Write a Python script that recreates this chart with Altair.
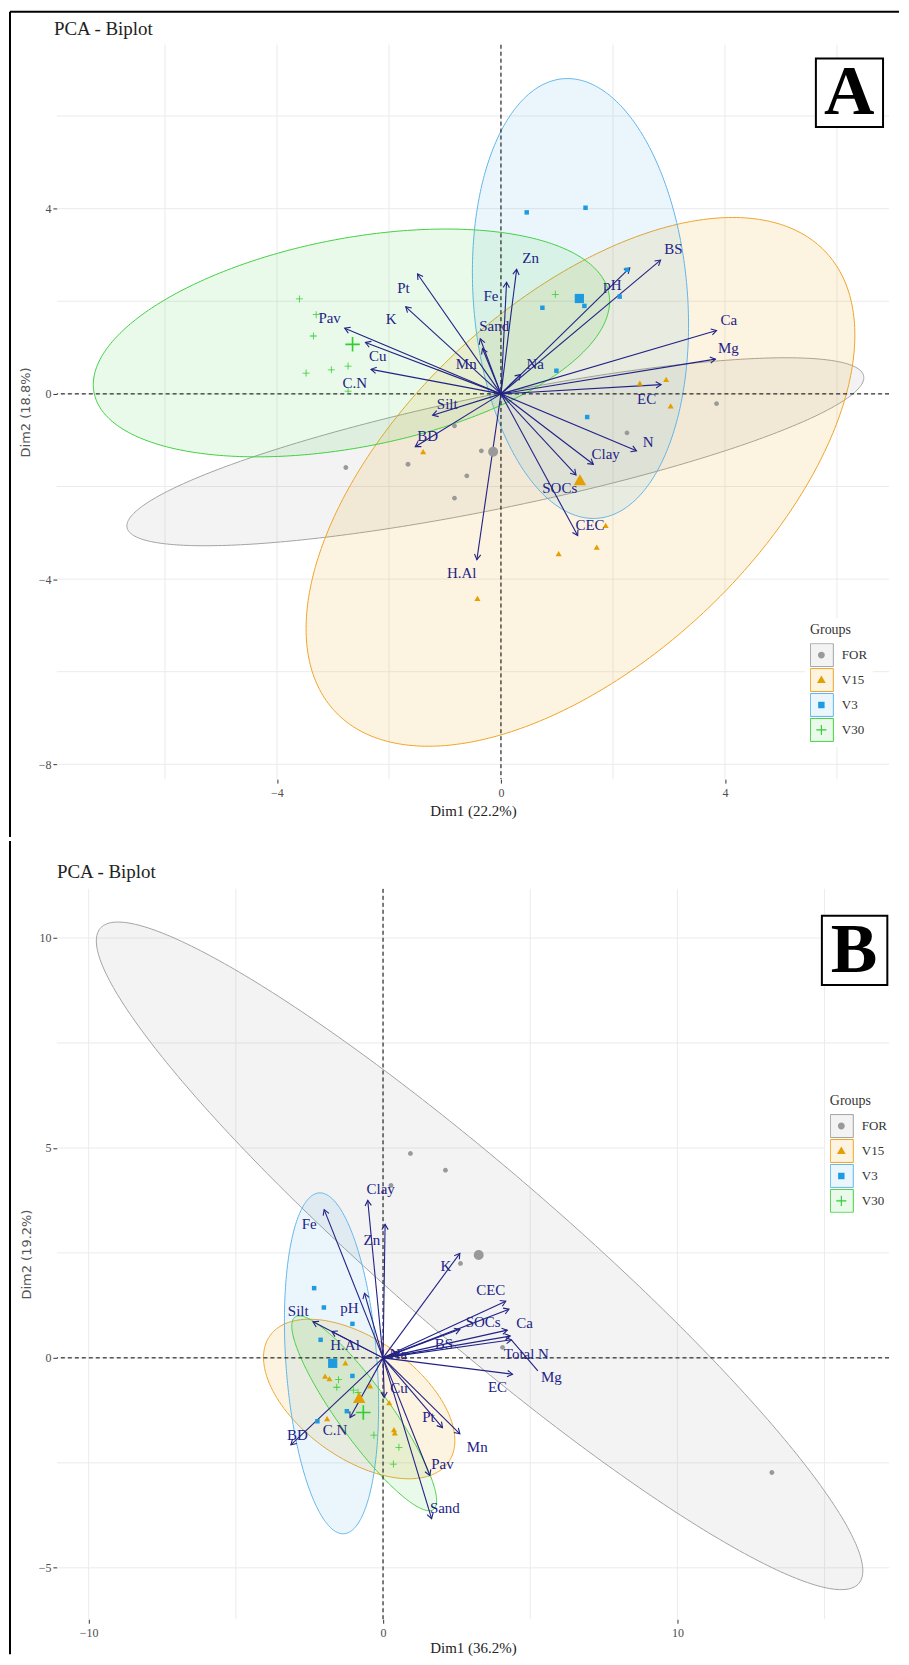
import math
import altair as alt
import numpy as np
import pandas as pd

SERIF = "Liberation Serif"
SANS = "DejaVu Sans"
NAVY = "#222286"

GROUPS = ["FOR", "V15", "V3", "V30"]
POINT_COLORS = ["#999999", "#E69F00", "#1E9BE0", "#33CC33"]
OUTLINE_COLORS = ["#A3A3A3", "#EFA52A", "#62B5EA", "#42CF42"]
ELLIPSE_FILLS = ["rgba(153,153,153,0.12)", "rgba(230,159,0,0.12)",
                 "rgba(30,155,224,0.09)", "rgba(51,204,51,0.10)"]
SHAPES = [
    "M0.3,0A0.3,0.3,0,1,1,-0.3,0A0.3,0.3,0,1,1,0.3,0Z",
    "M0,-0.4L0.38,0.26L-0.38,0.26Z",
    "M-0.28,-0.28H0.28V0.28H-0.28Z",
    "M-0.44,-0.05H-0.05V-0.44H0.05V-0.05H0.44V0.05H0.05V0.44H-0.05V0.05H-0.44Z",
]
CHEVRON = "M-0.6,1L0,0L0.6,1"
SMALL, BIG = 256, 1089

# ---------------- Panel A ----------------
A_FOR_X = [-0.83, -0.35, -1.66, -2.77, -0.61, -0.83, 2.25, 3.85]
A_FOR_Y = [-0.69, -1.23, -1.52, -1.59, -1.77, -2.25, -0.84, -0.21]
A_V15_X = [2.48, 2.95, 3.03, -1.39, 1.87, 1.71, 1.03, -0.42]
A_V15_Y = [0.22, 0.30, -0.27, -1.26, -2.85, -3.32, -3.46, -4.43]
A_V3_X = [0.46, 1.51, 1.49, 0.74, 2.25, 2.12, 0.99, 1.54]
A_V3_Y = [3.92, 4.02, 1.90, 1.86, 2.68, 2.10, 0.50, -0.50]
A_V30_X = [-3.60, -3.30, -3.35, -3.48, -3.03, -2.73, -2.73, 0.97]
A_V30_Y = [2.05, 1.71, 1.25, 0.45, 0.52, 0.60, 0.06, 2.15]
A_MEAN_X = [-0.14, 1.41, 1.40, -2.65]
A_MEAN_Y = [-1.25, -1.88, 2.06, 1.07]

A_ELL_CX = [-0.10, 1.42, 1.42, -2.67]
A_ELL_CY = [-1.25, -1.90, 2.06, 1.10]
A_ELL_HX = [6.58, 4.90, 1.93, 4.61]
A_ELL_HY = [2.03, 5.71, 4.75, 2.46]
A_ELL_RY = [1.60, 3.17, -0.57, 0.90]

A_VARS = ["Zn", "Fe", "Pt", "K", "Pav", "Cu", "C.N", "Sand", "Mn", "Na", "pH",
          "BS", "EC", "Silt", "BD", "N", "Clay", "SOCs", "CEC", "H.Al", "Ca", "Mg"]
A_TIP_X = [0.28, 0.10, -1.49, -1.70, -2.79, -2.42, -2.32, -0.37, -0.33, 0.35, 2.30,
           2.85, 2.86, -1.22, -1.53, 2.42, 1.65, 1.34, 1.37, -0.43, 3.85, 3.83]
A_TIP_Y = [2.69, 2.41, 2.59, 1.88, 1.42, 1.11, 0.53, 1.19, 0.98, 0.42, 2.72,
           2.89, 0.20, -0.46, -1.14, -1.23, -1.52, -1.75, -3.06, -3.58, 1.37, 0.75]
A_LAB_X = [0.53, -0.18, -1.74, -1.96, -3.06, -2.20, -2.61, -0.12, -0.62, 0.61, 1.99,
           3.08, 2.60, -0.96, -1.31, 2.63, 1.87, 1.05, 1.59, -0.70, 4.07, 4.06]
A_LAB_Y = [2.93, 2.11, 2.29, 1.62, 1.64, 0.82, 0.24, 1.46, 0.65, 0.65, 2.36,
           3.13, -0.11, -0.22, -0.91, -1.03, -1.29, -2.03, -2.83, -3.87, 1.59, 0.98]

# ---------------- Panel B ----------------
B_FOR_X = [0.93, 2.12, 0.27, 2.63, 4.06, 13.21]
B_FOR_Y = [4.87, 4.47, 4.11, 2.25, 0.25, -2.73]
B_V15_X = [-1.28, -1.97, -1.82, -0.44, 0.21, -1.90, 0.37, 0.40]
B_V15_Y = [-0.13, -0.45, -0.51, -0.68, -1.08, -1.46, -1.72, -1.80]
B_V3_X = [-2.34, -2.01, -1.04, -2.12, -1.04, -1.23, -2.23]
B_V3_Y = [1.66, 1.20, 0.81, 0.43, -0.43, -1.27, -1.51]
B_V30_X = [-1.51, -1.57, -1.01, -0.85, -0.31, 0.54, 0.35]
B_V30_Y = [-0.52, -0.70, -0.77, -0.82, -1.84, -2.13, -2.53]
B_MEAN_X = [3.25, -0.81, -1.71, -0.67]
B_MEAN_Y = [2.45, -0.97, -0.13, -1.30]

B_ELL_CX = [3.28, -0.81, -1.75, -0.64]
B_ELL_CY = [2.43, -0.98, -0.13, -1.32]
B_ELL_HX = [13.02, 3.25, 1.60, 2.46]
B_ELL_HY = [7.95, 1.90, 4.06, 2.32]
B_ELL_RY = [-7.50, -0.99, -1.00, -2.08]

B_VARS = ["Clay", "Fe", "Zn", "K", "pH", "Silt", "H.Al", "CEC", "Ca", "SOCs", "BS",
          "Total N", "Mg", "EC", "Na", "Cu", "Pt", "Mn", "Pav", "Sand", "BD", "C.N"]
B_TIP_X = [-0.52, -2.00, 0.07, 2.61, -0.63, -2.38, -1.74, 4.17, 4.28, 2.61, 4.22,
           4.32, 4.36, 4.40, 0.55, 0.04, 2.02, 2.61, 1.59, 1.65, -3.13, -1.12]
B_TIP_Y = [3.75, 3.53, 3.18, 2.49, 1.54, 0.86, 0.63, 1.35, 1.16, 0.68, 0.66,
           0.52, 0.43, -0.39, 0.12, -0.94, -1.66, -1.81, -2.80, -3.83, -2.07, -1.42]
B_LAB_X = [-0.08, -2.51, -0.38, 2.14, -1.14, -2.88, -1.29, 3.66, 4.81, 3.40, 2.07,
           4.87, 5.72, 3.89, 0.52, 0.54, 1.54, 3.20, 2.02, 2.10, -2.91, -1.63]
B_LAB_Y = [4.01, 3.19, 2.81, 2.19, 1.18, 1.12, 0.30, 1.61, 0.82, 0.86, 0.33,
           0.09, -0.45, -0.70, 0.09, -0.72, -1.40, -2.13, -2.53, -3.57, -1.83, -1.72]
B_CONN_X = [4.36]
B_CONN_Y = [0.43]
B_CONN_X2 = [5.26]
B_CONN_Y2 = [-0.31]


def ellipse_frame(cx, cy, hx, hy, ry, n=180):
    frames = []
    t = np.linspace(np.pi, 0.0, n)
    for g, x0, y0, a, b, r in zip(GROUPS, cx, cy, hx, hy, ry):
        sxy = r * a
        cond = b * b - sxy * sxy / (a * a)
        dx = a * np.cos(t)
        mid = y0 + sxy / (a * a) * dx
        half = np.sqrt(np.clip(cond * (1 - (dx / a) ** 2), 0, None))
        frames.append(pd.DataFrame({"group": g, "x": x0 + dx, "lo": mid - half, "hi": mid + half}))
    return pd.concat(frames, ignore_index=True)


def point_frame(xl, yl, mx, my):
    rows = []
    for g, xs, ys in zip(GROUPS, xl, yl):
        for x, y in zip(xs, ys):
            rows.append((g, x, y, SMALL))
    for g, x, y in zip(GROUPS, mx, my):
        rows.append((g, x, y, BIG))
    return pd.DataFrame(rows, columns=["group", "x", "y", "sz"])


def arrow_frame(names, tx, ty, lx, ly, sx, sy):
    df = pd.DataFrame({"name": names, "tx": tx, "ty": ty, "lx": lx, "ly": ly})
    df["ox"] = 0.0
    df["oy"] = 0.0
    df["ang"] = [math.degrees(math.atan2(a * sx, b * sy)) % 360 for a, b in zip(tx, ty)]
    return df


def legend_box(lx, ly):
    return dict(title="Groups", orient="none", legendX=lx, legendY=ly, symbolSize=529,
                symbolType="square", symbolStrokeWidth=1, fillColor="white",
                padding=5, labelFont=SERIF, labelFontSize=13, labelColor="#333333",
                labelOffset=8, titleFont=SERIF, titleFontSize=14, titleFontWeight="normal",
                titleColor="#333333", titlePadding=6, rowPadding=1, clipHeight=24)


def legend_pts(lx, ly):
    return dict(title="Groups", orient="none", legendX=lx, legendY=ly, symbolSize=529,
                symbolStrokeWidth=0, padding=5, labelFont=SERIF, labelFontSize=13,
                labelExpr="''", labelOffset=8, titleFont=SERIF, titleFontSize=14,
                titleFontWeight="normal", titleOpacity=0, titlePadding=6,
                rowPadding=1, clipHeight=24)


def build_panel(c):
    W, H = c["W"], c["H"]
    x0, x1 = c["xdom"]
    y0, y1 = c["ydom"]
    sx = W / (x1 - x0)
    sy = H / (y1 - y0)
    xs = alt.Scale(domain=[x0, x1], nice=False, zero=False)
    ys = alt.Scale(domain=[y0, y1], nice=False, zero=False)
    xaxis = alt.Axis(values=c["xticks"], title=c["xtitle"], grid=False, domain=False,
                     tickSize=4, tickColor="#333333", labelColor="#4d4d4d", labelFont=SERIF,
                     labelFontSize=12, labelPadding=4, titleFont=SERIF, titleFontSize=15,
                     titleFontWeight="normal", titleColor="#222222", titlePadding=c["xtp"])
    yaxis = alt.Axis(values=c["yticks"], title=c["ytitle"], grid=False, domain=False,
                     tickSize=4, tickColor="#333333", labelColor="#4d4d4d", labelFont=SERIF,
                     labelFontSize=12, labelPadding=2, titleFont=SANS, titleFontSize=13,
                     titleFontWeight="normal", titleColor="#555555", titleX=c["ytx"],
                     titleY=H / 2)

    def X(f):
        return alt.X(f, type="quantitative", scale=xs, axis=xaxis)

    def Y(f):
        return alt.Y(f, type="quantitative", scale=ys, axis=yaxis)

    gx = alt.Chart(pd.DataFrame({"v": c["xgrid"]})).mark_rule(
        color="#EBEBEB", strokeWidth=1).encode(x=X("v"))
    gy = alt.Chart(pd.DataFrame({"v": c["ygrid"]})).mark_rule(
        color="#EBEBEB", strokeWidth=1).encode(y=Y("v"))

    edf = ellipse_frame(*c["ell"])
    lb = legend_box(c["lx"], c["ly"])
    ell = alt.Chart(edf).mark_area(strokeWidth=1).encode(
        x=X("x"), y=Y("hi"), y2="lo",
        color=alt.Color("group:N", scale=alt.Scale(range=ELLIPSE_FILLS), legend=alt.Legend(**lb)),
        stroke=alt.Stroke("group:N", scale=alt.Scale(range=OUTLINE_COLORS), legend=alt.Legend(**lb)),
    )

    zdf = pd.DataFrame({"v": [0.0]})
    zx = alt.Chart(zdf).mark_rule(color="black", strokeDash=[4, 3], strokeWidth=1).encode(x=X("v"))
    zy = alt.Chart(zdf).mark_rule(color="black", strokeDash=[4, 3], strokeWidth=1).encode(y=Y("v"))

    adf = arrow_frame(*c["arrows"], sx, sy)
    arr = alt.Chart(adf).mark_rule(color=NAVY, strokeWidth=1.1).encode(
        x=X("ox"), y=Y("oy"), x2="tx", y2="ty")
    heads = alt.Chart(adf).mark_point(shape=CHEVRON, filled=False, size=110, strokeWidth=1.1,
                                      color=NAVY, opacity=1).encode(
        x=X("tx"), y=Y("ty"), angle=alt.Angle("ang:Q", scale=None))
    labels = alt.Chart(adf).mark_text(font=SERIF, fontSize=15, color=NAVY).encode(
        x=X("lx"), y=Y("ly"), text="name:N")

    pdf = point_frame(*c["points"])
    lp = legend_pts(c["lx"], c["ly"])
    pts = alt.Chart(pdf).mark_point(filled=True, opacity=1, strokeWidth=0).encode(
        x=X("x"), y=Y("y"),
        fill=alt.Fill("group:N", scale=alt.Scale(range=POINT_COLORS), legend=alt.Legend(**lp)),
        shape=alt.Shape("group:N", scale=alt.Scale(range=SHAPES), legend=alt.Legend(**lp)),
        size=alt.Size("sz:Q", scale=None, legend=None),
    )

    layers = [gx, gy, ell, zx, zy, arr, heads, pts, labels]

    if c.get("conn") is not None:
        cdf = pd.DataFrame(dict(zip(["cx", "cy", "cx2", "cy2"], c["conn"])))
        layers.append(alt.Chart(cdf).mark_rule(color=NAVY, strokeWidth=1.1).encode(
            x=X("cx"), y=Y("cy"), x2="cx2", y2="cy2"))

    one = pd.DataFrame({"k": [0]})
    bx0, bx1, by0, by1 = c["box"]
    layers.append(alt.Chart(one).mark_rect(fill="white", stroke="black", strokeWidth=2).encode(
        x=alt.value(bx0), x2=alt.value(bx1), y=alt.value(by0), y2=alt.value(by1)))
    layers.append(alt.Chart(one).mark_text(text=c["letter"], font=SERIF, fontSize=70,
                                           fontWeight="bold", color="black", align="center",
                                           baseline="alphabetic").encode(
        x=alt.value(c["letter_x"]), y=alt.value(c["letter_y"])))
    layers.append(alt.Chart(one).mark_text(text="PCA - Biplot", font=SERIF, fontSize=19,
                                           color="#222222", align="left",
                                           baseline="middle").encode(
        x=alt.value(c["title_x"]), y=alt.value(c["title_y"])))
    bl, bt, bb = c["border_left"]
    layers.append(alt.Chart(one).mark_rule(color="black", strokeWidth=2).encode(
        x=alt.value(bl), y=alt.value(bt), y2=alt.value(bb)))
    if c.get("border_top") is not None:
        tl, tr, ty = c["border_top"]
        layers.append(alt.Chart(one).mark_rule(color="black", strokeWidth=2).encode(
            x=alt.value(tl), x2=alt.value(tr), y=alt.value(ty)))

    return alt.layer(*layers).properties(width=W, height=H)


cfg_a = dict(
    W=834, H=736, xdom=[-7.93, 6.93], ydom=[-8.32, 7.54],
    xticks=[-4, 0, 4], yticks=[-8, -4, 0, 4],
    xgrid=[-6, -4, -2, 0, 2, 4, 6], ygrid=[-8, -6, -4, -2, 0, 2, 4, 6],
    xtitle="Dim1 (22.2%)", ytitle="Dim2 (18.8%)", xtp=5, ytx=-24.5,
    ell=(A_ELL_CX, A_ELL_CY, A_ELL_HX, A_ELL_HY, A_ELL_RY),
    arrows=(A_VARS, A_TIP_X, A_TIP_Y, A_LAB_X, A_LAB_Y),
    points=([A_FOR_X, A_V15_X, A_V3_X, A_V30_X], [A_FOR_Y, A_V15_Y, A_V3_Y, A_V30_Y],
            A_MEAN_X, A_MEAN_Y),
    lx=749.7, ly=574.7,
    box=(760.7, 828, 13.7, 82.3), letter="A", letter_x=794, letter_y=69,
    title_x=-3, title_y=-16, border_left=(-47, -33, 794), border_top=(-47, 844, -33),
)

cfg_b = dict(
    W=834, H=732, xdom=[-11.08, 17.19], ydom=[-6.225, 11.17],
    xticks=[-10, 0, 10], yticks=[-5, 0, 5, 10],
    xgrid=[-10, -5, 0, 5, 10, 15], ygrid=[-5, -2.5, 0, 2.5, 5, 7.5, 10],
    xtitle="Dim1 (36.2%)", ytitle="Dim2 (19.2%)", xtp=2, ytx=-23,
    ell=(B_ELL_CX, B_ELL_CY, B_ELL_HX, B_ELL_HY, B_ELL_RY),
    arrows=(B_VARS, B_TIP_X, B_TIP_Y, B_LAB_X, B_LAB_Y),
    points=([B_FOR_X, B_V15_X, B_V3_X, B_V30_X], [B_FOR_Y, B_V15_Y, B_V3_Y, B_V30_Y],
            B_MEAN_X, B_MEAN_Y),
    conn=(B_CONN_X, B_CONN_Y, B_CONN_X2, B_CONN_Y2),
    lx=769.7, ly=200.7,
    box=(766.7, 832.3, 27, 96.3), letter="B", letter_x=799, letter_y=83,
    title_x=0, title_y=-17, border_left=(-47, -48, 767),
)

panel_a = build_panel(cfg_a)
panel_b = build_panel(cfg_b)

chart = alt.vconcat(panel_a, panel_b, spacing=0).resolve_scale(
    color="independent", fill="independent", stroke="independent", shape="independent"
).properties(padding=0, background="white").configure_view(stroke="transparent")

chart.save("out.html", embed_options={"renderer": "svg", "actions": False})
